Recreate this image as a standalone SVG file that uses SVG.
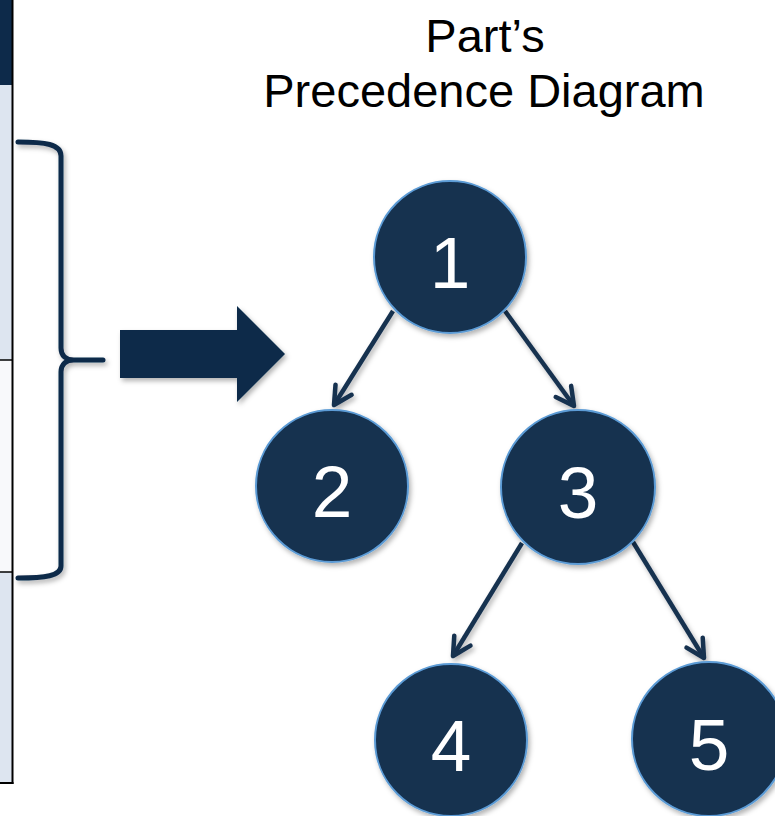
<svg xmlns="http://www.w3.org/2000/svg" width="775" height="816" viewBox="0 0 775 816">
  <style>
    .node circle { fill: #15304f; stroke: #5b9bd5; stroke-width: 2; filter: url(#shadow); }
    .node text { font-family: "Liberation Sans", Arial, sans-serif; font-size: 73px; fill: #ffffff; text-anchor: middle; }
    .edge { stroke: #15304f; stroke-width: 4.5; fill: none; marker-end: url(#chev); filter: url(#shadow); }
    .title { font-family: "Liberation Sans", Arial, sans-serif; font-size: 47px; fill: #000000; text-anchor: middle; }
  </style>
  <defs>
    <filter id="shadow" x="-20%" y="-20%" width="150%" height="150%">
      <feDropShadow dx="2" dy="3" stdDeviation="2.5" flood-color="#000000" flood-opacity="0.3"/>
    </filter>
    <marker id="chev" markerUnits="userSpaceOnUse" markerWidth="40" markerHeight="40" refX="0" refY="0" orient="auto" viewBox="-20 -20 40 40" overflow="visible">
      <path d="M-18,-9.5 L0,0 L-18,9.5" fill="none" stroke="#15304f" stroke-width="4.5" stroke-linecap="round" stroke-linejoin="round"/>
    </marker>
  </defs>
  <rect width="775" height="816" fill="#ffffff"/>

  <g id="table">
    <rect x="0" y="0" width="13" height="85" fill="#0d2a4a"/>
    <rect x="0" y="85" width="13" height="275" fill="#dde5f0"/>
    <rect x="0" y="360" width="13" height="212" fill="#f8f9fb"/>
    <rect x="0" y="572" width="13" height="211" fill="#dde5f0"/>
    <line x1="12.5" y1="0" x2="12.5" y2="784" stroke="#000000" stroke-width="2"/>
    <line x1="0" y1="360" x2="13" y2="360" stroke="#000000" stroke-width="1.5"/>
    <line x1="0" y1="572" x2="13" y2="572" stroke="#000000" stroke-width="1.5"/>
    <line x1="0" y1="783" x2="13.5" y2="783" stroke="#000000" stroke-width="2"/>
  </g>

  <g id="brace" filter="url(#shadow)">
    <path d="M18,142 C45,142 61,144 61,156 L61,348 C61,356 66,360 74,360 L103,360 M74,360 C66,360 61,364 61,372 L61,566 C61,576 45,578 18,578" fill="none" stroke="#0d2a4a" stroke-width="5" stroke-linecap="round"/>
  </g>

  <g id="big-arrow" filter="url(#shadow)">
    <polygon points="120,330 237,330 237,306 285,354 237,402 237,378 120,378" fill="#0d2a4a"/>
  </g>

  <g id="title">
    <text class="title" x="485" y="52">Part’s</text>
    <text class="title" x="484" y="107">Precedence Diagram</text>
  </g>

  <g id="connectors">
    <line class="edge" x1="393" y1="311" x2="334" y2="405"/>
    <line class="edge" x1="505" y1="311" x2="574" y2="406"/>
    <line class="edge" x1="522" y1="543" x2="453" y2="656"/>
    <line class="edge" x1="633" y1="542" x2="704" y2="658"/>
  </g>

  <g id="node1" class="node">
    <circle cx="450" cy="257" r="76"/>
    <text x="450" y="288">1</text>
  </g>
  <g id="node2" class="node">
    <circle cx="332" cy="486" r="76"/>
    <text x="332" y="517">2</text>
  </g>
  <g id="node3" class="node">
    <circle cx="578" cy="487" r="77"/>
    <text x="578" y="518">3</text>
  </g>
  <g id="node4" class="node">
    <circle cx="451" cy="740" r="76"/>
    <text x="451" y="771">4</text>
  </g>
  <g id="node5" class="node">
    <circle cx="709" cy="739" r="77"/>
    <text x="709" y="770">5</text>
  </g>
</svg>
